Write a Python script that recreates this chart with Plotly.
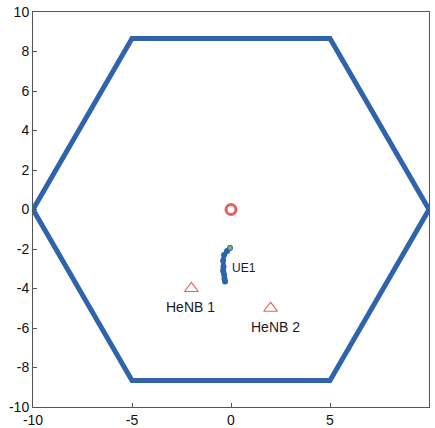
import plotly.graph_objects as go

hex_x = [10, 5, -5, -10, -5, 5, 10]
hex_y = [0, 8.66, 8.66, 0, -8.66, -8.66, 0]

henb_names = ["HeNB 1", "HeNB 2"]
henb_x = [-2, 2]
henb_y = [-4, -5]

macro_x = [0]
macro_y = [0]

ue_x = [-0.05, -0.2, -0.35, -0.4, -0.38, -0.4, -0.35, -0.33, -0.3]
ue_y = [-1.95, -2.1, -2.3, -2.6, -2.9, -3.1, -3.3, -3.5, -3.65]

x_ticks = [-10, -5, 0, 5, 10]
x_tick_labels = ["-10", "-5", "0", "5", "10"]
y_ticks = [-10, -8, -6, -4, -2, 0, 2, 4, 6, 8, 10]
y_tick_labels = ["-10", "-8", "-6", "-4", "-2", "0", "2", "4", "6", "8", "10"]

blue = "#2f64ad"
red = "#e8605a"

fig = go.Figure()
fig.add_trace(go.Scatter(x=hex_x, y=hex_y, mode="lines",
                         line=dict(color=blue, width=5), hoverinfo="skip"))
fig.add_trace(go.Scatter(x=ue_x, y=ue_y, mode="lines+markers",
                         line=dict(color=blue, width=4.5),
                         marker=dict(color=blue, size=6)))
fig.add_trace(go.Scatter(x=[ue_x[0]], y=[ue_y[0]], mode="markers",
                         marker=dict(color="#7ac04a", size=4)))
fig.add_trace(go.Scatter(x=macro_x, y=macro_y, mode="markers",
                         marker=dict(symbol="circle-open", color=red, size=10,
                                     line=dict(width=3))))
fig.add_trace(go.Scatter(x=henb_x, y=henb_y, mode="markers",
                         marker=dict(symbol="triangle-up-open", color=red, size=12,
                                     line=dict(width=1.2))))

font = dict(family="Liberation Sans, Arial, sans-serif", size=14, color="#111")
label_dx = [-0.05, 0.25]
for name, x, y, dx in zip(henb_names, henb_x, henb_y, label_dx):
    fig.add_annotation(x=x + dx, y=y - 0.95, text=name, showarrow=False,
                       font=dict(family="Liberation Sans, Arial", size=14, color="#1a1a1a"))
fig.add_annotation(x=-0.05, y=-2.95, text="UE1", showarrow=False, xanchor="left",
                   font=dict(family="Liberation Sans, Arial", size=12, color="#1a1a1a"))

axis_common = dict(showgrid=False, zeroline=False, showline=True, linecolor="#555",
                   linewidth=1, mirror=True, ticks="inside", ticklen=4,
                   tickcolor="#555", range=[-10, 10], tickfont=font,
                   automargin=False, ticklabelstandoff=0)
fig.update_layout(
    width=435, height=428,
    margin=dict(l=33, r=6, t=12, b=21),
    paper_bgcolor="white", plot_bgcolor="white",
    showlegend=False,
    xaxis=dict(axis_common, tickvals=x_ticks, ticktext=x_tick_labels),
    yaxis=dict(axis_common, tickvals=y_ticks, ticktext=y_tick_labels),
)
fig.write_html("out.html", config={"displayModeBar": False},
               post_script="document.body.style.margin='0';document.body.style.overflow='hidden';")
